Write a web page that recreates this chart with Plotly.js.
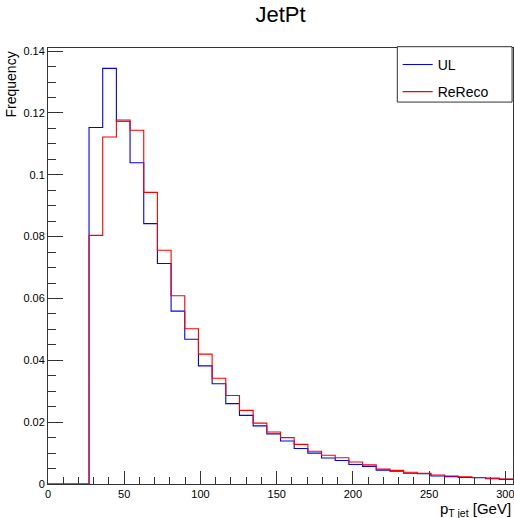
<!DOCTYPE html>
<html>
<head>
<meta charset="utf-8">
<script src="https://cdn.plot.ly/plotly-3.0.1.min.js"></script>
<style>
  html, body { margin: 0; padding: 0; background: #fff; }
  #chart { width: 514px; height: 518px; }
</style>
</head>
<body>
<div id="chart"></div>
<script>
// Histogram binning (ROOT TH1: 34 bins on [0, 305])
const binLow = 0;
const binHigh = 305;
const nBins = 34;

// Bin contents (normalised frequency), one per bin
const ulValues = [
  0, 0, 0, 0.1153, 0.1344, 0.1173, 0.1039, 0.0842, 0.0713, 0.0559,
  0.0468, 0.0382, 0.0324, 0.0260, 0.0222, 0.0188, 0.0162, 0.0139, 0.0115, 0.0100,
  0.0084, 0.0076, 0.0063, 0.0057, 0.0045, 0.0041, 0.0035, 0.0033, 0.0026, 0.0024,
  0.0021, 0.0020, 0.0017, 0.0015
];
const rerecoValues = [
  0, 0, 0, 0.0804, 0.1122, 0.1177, 0.1144, 0.0943, 0.0756, 0.0609,
  0.0502, 0.0420, 0.0342, 0.0286, 0.0238, 0.0197, 0.0168, 0.0150, 0.0128, 0.0106,
  0.0093, 0.0085, 0.0071, 0.0062, 0.0048, 0.0044, 0.0038, 0.0035, 0.0029, 0.0026,
  0.0023, 0.0021, 0.0019, 0.0016
];
const seriesNames = ['UL', 'ReReco'];
const xTickVals = [0, 50, 100, 150, 200, 250, 300];
const yTickVals = [0, 0.02, 0.04, 0.06, 0.08, 0.1, 0.12, 0.14];

// Step outline: left edges + final right edge, last value repeated
const binWidth = (binHigh - binLow) / nBins;
const edges = [];
for (let i = 0; i <= nBins; i++) edges.push(binLow + i * binWidth);
function stepY(vals) { return vals.concat([vals[vals.length - 1]]); }

const FONT = 'Liberation Sans, Arial, Helvetica, sans-serif';

const traces = [
  {
    x: edges, y: stepY(ulValues), name: seriesNames[0], type: 'scatter', mode: 'lines',
    line: { shape: 'hv', color: '#0000ff', width: 1.1 }, legendgroup: 'a', hoverinfo: 'skip',
    cliponaxis: false
  },
  {
    x: edges, y: stepY(rerecoValues), name: seriesNames[1], type: 'scatter', mode: 'lines',
    line: { shape: 'hv', color: '#ff0000', width: 1.1 }, legendgroup: 'b', hoverinfo: 'skip',
    cliponaxis: false
  }
];

const axisCommon = {
  showgrid: false, zeroline: false, showline: true, mirror: true,
  linecolor: '#333', linewidth: 1, ticks: 'inside', tickcolor: '#333',
  layer: 'below traces', ticklabeloverflow: 'allow',
  tickfont: { family: FONT, size: 11, color: '#000' }
};

const layout = {
  width: 514, height: 518,
  margin: { l: 48, r: 1, t: 48, b: 34, pad: 0 },
  paper_bgcolor: '#fff', plot_bgcolor: '#fff',
  font: { family: FONT, color: '#000' },
  title: {
    text: 'JetPt', font: { family: FONT, size: 22, color: '#000' },
    x: 0.5, xref: 'paper', xanchor: 'center', y: 1 - 14 / 518, yref: 'container', yanchor: 'middle'
  },
  xaxis: Object.assign({}, axisCommon, {
    range: [binLow, binHigh], tickmode: 'array', tickvals: xTickVals, ticklen: 13,
    minor: { dtick: 10, tick0: 0, ticks: 'inside', ticklen: 7, tickcolor: '#333' }
  }),
  yaxis: Object.assign({}, axisCommon, {
    range: [0, 0.141], tickmode: 'array', tickvals: yTickVals, ticklen: 15,
    minor: { dtick: 0.005, tick0: 0, ticks: 'inside', ticklen: 8, tickcolor: '#333' }
  }),
  showlegend: true,
  legend: {
    x: 0.752, xanchor: 'left', y: 0.998, yanchor: 'top',
    bgcolor: 'rgba(0,0,0,0)', borderwidth: 0,
    font: { family: FONT, size: 14, color: '#000' },
    tracegroupgap: 6, itemwidth: 30
  },
  shapes: [
    { type: 'rect', xref: 'paper', yref: 'paper', x0: 0.7512, x1: 0.998, y0: 0.876, y1: 1.003,
      line: { color: '#333', width: 1 }, fillcolor: '#fff', layer: 'above' }
  ],
  annotations: [
    { text: 'Frequency', xref: 'paper', yref: 'paper', x: (10 - 48) / 465, y: (484 - 84.5) / 436,
      xanchor: 'center', yanchor: 'middle', textangle: -90, showarrow: false,
      font: { family: FONT, size: 14, color: '#000' } },
    { text: 'p<sub>T jet</sub> [GeV]', xref: 'paper', yref: 'paper', x: 1, y: (484 - 509) / 436,
      xanchor: 'right', yanchor: 'middle', showarrow: false,
      font: { family: FONT, size: 15, color: '#000' } }
  ]
};

Plotly.newPlot('chart', traces, layout, { staticPlot: true, displayModeBar: false });
</script>
</body>
</html>
